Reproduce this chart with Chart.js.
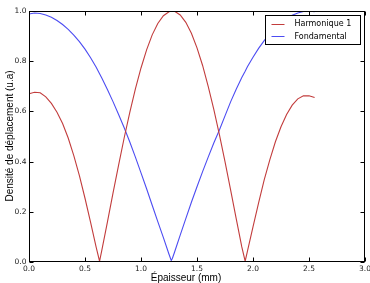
<!DOCTYPE html>
<html><head><meta charset="utf-8">
<script src="https://cdn.jsdelivr.net/npm/chart.js@4.4.0/dist/chart.umd.min.js"></script>
<style>html,body{margin:0;padding:0;background:#fff;}canvas{display:block;}</style>
</head><body>
<canvas id="c" width="370" height="283"></canvas>
<script>
const thicknessMm = [0,0.05,0.1,0.15,0.2,0.25,0.3,0.35,0.4,0.45,0.5,0.55,0.6,0.63,
  0.65,0.7,0.75,0.8,0.85,0.9,0.95,1.0,1.05,1.1,1.15,1.2,1.25,1.27,1.28,
  1.3,1.35,1.4,1.45,1.5,1.55,1.6,1.65,1.7,1.75,1.8,1.85,1.9,1.93,
  1.95,2.0,2.05,2.1,2.15,2.2,2.25,2.3,2.35,2.4,2.45,2.5,2.55];
const harmonique1 = [0.670,0.676,0.674,0.658,0.632,0.597,0.552,0.494,0.424,0.344,0.254,0.158,0.058,0.003,
  0.046,0.159,0.274,0.386,0.495,0.596,0.690,0.773,0.845,0.905,0.950,0.981,0.997,0.999,1.0,
  0.999,0.984,0.955,0.911,0.853,0.783,0.700,0.608,0.507,0.400,0.287,0.173,0.060,0.003,
  0.042,0.140,0.236,0.327,0.407,0.479,0.539,0.588,0.625,0.650,0.662,0.662,0.655];
const fondamental = [0.988,0.992,0.990,0.984,0.975,0.962,0.946,0.927,0.904,0.878,0.848,0.814,0.776,0.750,
  0.733,0.687,0.639,0.588,0.535,0.478,0.418,0.355,0.292,0.226,0.161,0.097,0.031,0.006,0.014,
  0.040,0.107,0.173,0.238,0.300,0.360,0.418,0.474,0.526,0.582,0.638,0.688,0.735,0.760,
  0.778,0.816,0.851,0.882,0.909,0.933,0.953,0.970,0.983,0.992,0.998,1.0,0.997];
const xTickValues = [0,0.5,1.0,1.5,2.0,2.5,3.0];
const yTickValues = [0,0.2,0.4,0.6,0.8,1.0];
const seriesLabels = ['Harmonique 1','Fondamental'];
const seriesColors = ['#c23c3c','#4c4cf2'];
const xTitle = 'Épaisseur (mm)';
const yTitle = 'Densité de déplacement (u.a)';

const toPts = ys => thicknessMm.map((x,i)=>({x:x,y:ys[i]}));

const framePlugin = {
  id:'frame',
  afterDatasetsDraw(chart){
    const {ctx, chartArea:a, scales:{x,y}} = chart;
    ctx.save();
    ctx.strokeStyle='#000'; ctx.lineWidth=1;
    const L=Math.round(a.left)+0.5, R=Math.round(a.right)-0.5, T=Math.round(a.top)+0.5, B=Math.round(a.bottom)-0.5;
    ctx.strokeRect(L,T,R-L,B-T);
    ctx.beginPath();
    x.ticks.forEach(t=>{const p=Math.round(x.getPixelForValue(t.value))+0.5;
      ctx.moveTo(p,B); ctx.lineTo(p,B-4); ctx.moveTo(p,T); ctx.lineTo(p,T+4);});
    y.ticks.forEach(t=>{const p=Math.round(y.getPixelForValue(t.value))+0.5;
      ctx.moveTo(L,p); ctx.lineTo(L+4,p); ctx.moveTo(R,p); ctx.lineTo(R-4,p);});
    ctx.stroke();
    // legend box
    const bx=Math.round(a.right)-100+0.5, by=Math.round(a.top)+4+0.5, bw=95, bh=29;
    ctx.fillStyle='#fff'; ctx.fillRect(bx,by,bw,bh);
    ctx.strokeStyle='#000'; ctx.strokeRect(bx,by,bw,bh);
    ctx.font='8px "DejaVu Sans"'; ctx.textBaseline='middle'; ctx.textAlign='left';
    chart.data.datasets.forEach((ds,i)=>{
      const yy = by + 8 + i*12.7;
      ctx.strokeStyle=ds.borderColor; ctx.lineWidth=1;
      ctx.beginPath(); ctx.moveTo(bx+6, Math.round(yy)+0.5); ctx.lineTo(bx+19, Math.round(yy)+0.5); ctx.stroke();
      ctx.fillStyle='#000'; ctx.fillText(ds.label, bx+29, yy+0.5);
    });
    // axis titles
    ctx.fillStyle='#000';
    ctx.font='10px "Liberation Sans"'; ctx.textAlign='center'; ctx.textBaseline='alphabetic';
    ctx.fillText(xTitle, 186, 281);
    ctx.save(); ctx.translate(13, 136); ctx.rotate(-Math.PI/2);
    ctx.fillText(yTitle, 0, 0); ctx.restore();
    ctx.restore();
  }
};

new Chart(document.getElementById('c'), {
  type:'line',
  data:{datasets:[
    {label:seriesLabels[0], data:toPts(harmonique1), borderColor:seriesColors[0], borderWidth:1.1, pointRadius:0, tension:0, fill:false},
    {label:seriesLabels[1], data:toPts(fondamental), borderColor:seriesColors[1], borderWidth:1.1, pointRadius:0, tension:0, fill:false}
  ]},
  options:{
    responsive:false, animation:false, devicePixelRatio:1,
    layout:{padding:{left:0, top:11, right:5, bottom:0}},
    plugins:{legend:{display:false}, tooltip:{enabled:false}},
    scales:{
      x:{type:'linear', min:0, max:3,
        afterBuildTicks:s=>{s.ticks = xTickValues.map(v=>({value:v}));},
        afterFit:s=>{s.height=21; s.paddingLeft=0; s.paddingRight=0;},
        grid:{display:false, drawTicks:false}, border:{display:false},
        ticks:{font:{family:'DejaVu Sans', size:7.5}, color:'#222', padding:2.5, maxRotation:0, autoSkip:false,
          callback:v=>Number(v).toFixed(1)}},
      y:{type:'linear', min:0, max:1,
        afterBuildTicks:s=>{s.ticks = yTickValues.map(v=>({value:v}));},
        afterFit:s=>{s.width=29; s.paddingTop=0; s.paddingBottom=0;},
        grid:{display:false, drawTicks:false}, border:{display:false},
        ticks:{font:{family:'DejaVu Sans', size:7.5}, color:'#222', padding:2.5, autoSkip:false,
          callback:v=>Number(v).toFixed(1)}}
    }
  },
  plugins:[framePlugin]
});
</script>
</body></html>
